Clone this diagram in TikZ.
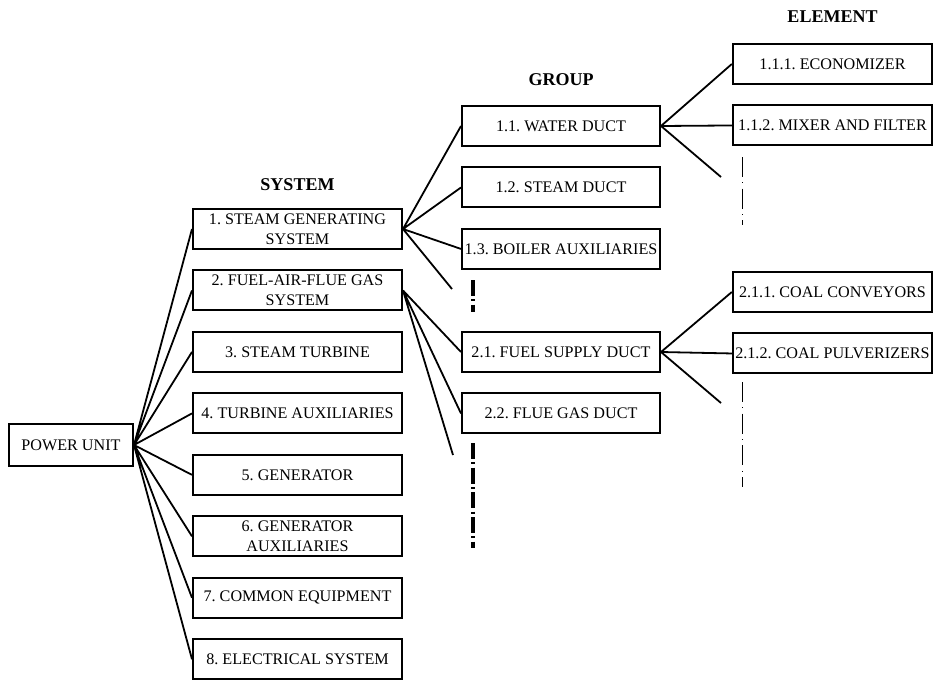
\documentclass[tikz,border=0pt]{standalone}
\usepackage{fontspec}
\setmainfont{Liberation Serif}
\usetikzlibrary{positioning}

\begin{document}
\frenchspacing
\begin{tikzpicture}[x=0.75pt, y=-0.75pt,
  node distance=14.6pt,
  bx/.style={draw, line width=1.5pt, align=center, inner xsep=0pt, inner ysep=1pt, minimum height=30pt, font=\fontsize{12.1}{15}\selectfont},
  sys/.style={bx, minimum width=156.75pt},
  grp/.style={bx, minimum width=148.5pt},
  elm/.style={bx, minimum width=149.5pt},
  ttl/.style={font=\bfseries\fontsize{13.5}{15}\selectfont},
  ln/.style={line width=1.35pt},
  gapthick/.style={line width=2.4pt, dash pattern=on 12pt off 2.5pt on 1.5pt off 2.5pt},
  gapthin/.style={line width=0.7pt, dash pattern=on 15pt off 4pt on 0.8pt off 4pt}
]
\useasboundingbox (0,0) rectangle (933,682);

% titles
\node[ttl] (tsys) at (297.5,185) {SYSTEM};
\node[ttl] (tgrp) at (561,80) {GROUP};
\node[ttl] (telm) at (832.5,17) {ELEMENT};

% power unit
\node[bx, minimum width=93pt, minimum height=31.5pt] (pu) at (71,445) {POWER UNIT};

% systems
\node[sys] (s1) at (297.5,229) {1. STEAM GENERATING\\SYSTEM};
\node[sys, below=of s1] (s2) {2. FUEL-AIR-FLUE GAS\\SYSTEM};
\node[sys, below=of s2] (s3) {3. STEAM TURBINE};
\node[sys, below=of s3] (s4) {4. TURBINE AUXILIARIES};
\node[sys, below=of s4] (s5) {5. GENERATOR};
\node[sys, below=of s5] (s6) {6. GENERATOR\\AUXILIARIES};
\node[sys, below=of s6] (s7) {7. COMMON EQUIPMENT};
\node[sys, below=of s7] (s8) {8. ELECTRICAL SYSTEM};

% groups
\node[grp] (g11) at (561,126) {1.1. WATER DUCT};
\node[grp, below=of g11] (g12) {1.2. STEAM DUCT};
\node[grp, below=of g12] (g13) {1.3. BOILER AUXILIARIES};
\node[grp] (g21) at (561,352) {2.1. FUEL SUPPLY DUCT};
\node[grp, below=of g21] (g22) {2.2. FLUE GAS DUCT};

% elements
\node[elm] (e111) at (832.5,64) {1.1.1. ECONOMIZER};
\node[elm, below=of e111] (e112) {1.1.2. MIXER AND FILTER};
\node[elm] (e211) at (832.5,292) {2.1.1. COAL CONVEYORS};
\node[elm, below=of e211] (e212) {2.1.2. COAL PULVERIZERS};

% free ends and gaps
\coordinate (f1) at (452,289);
\coordinate (f2) at (453,455);
\coordinate (f3) at (721,177);
\coordinate (f4) at (721,403);
\coordinate (d1a) at (473,280);
\coordinate (d1b) at (473,312);
\coordinate (d2a) at (473,443);
\coordinate (d2b) at (473,548);
\coordinate (d3a) at (742,157);
\coordinate (d3b) at (742,225);
\coordinate (d4a) at (742,382);
\coordinate (d4b) at (742,487);

\draw[ln] (pu.east) -- (s1.west) (pu.east) -- (s2.west)
  (pu.east) -- (s3.west) (pu.east) -- (s4.west)
  (pu.east) -- (s5.west) (pu.east) -- (s6.west)
  (pu.east) -- (s7.west) (pu.east) -- (s8.west);
\draw[ln] (s1.east) -- (g11.west) (s1.east) -- (g12.west)
  (s1.east) -- (g13.west) (s1.east) -- (f1);
\draw[ln] (s2.east) -- (g21.west) (s2.east) -- (g22.west) (s2.east) -- (f2);
\draw[ln] (g11.east) -- (e111.west) (g11.east) -- (e112.west) (g11.east) -- (f3);
\draw[ln] (g21.east) -- (e211.west) (g21.east) -- (e212.west) (g21.east) -- (f4);

\draw[gapthick] (d1a) -- (d1b);
\draw[gapthick] (d2a) -- (d2b);
\draw[gapthin] (d3a) -- (d3b);
\draw[gapthin] (d4a) -- (d4b);
\end{tikzpicture}
\end{document}
